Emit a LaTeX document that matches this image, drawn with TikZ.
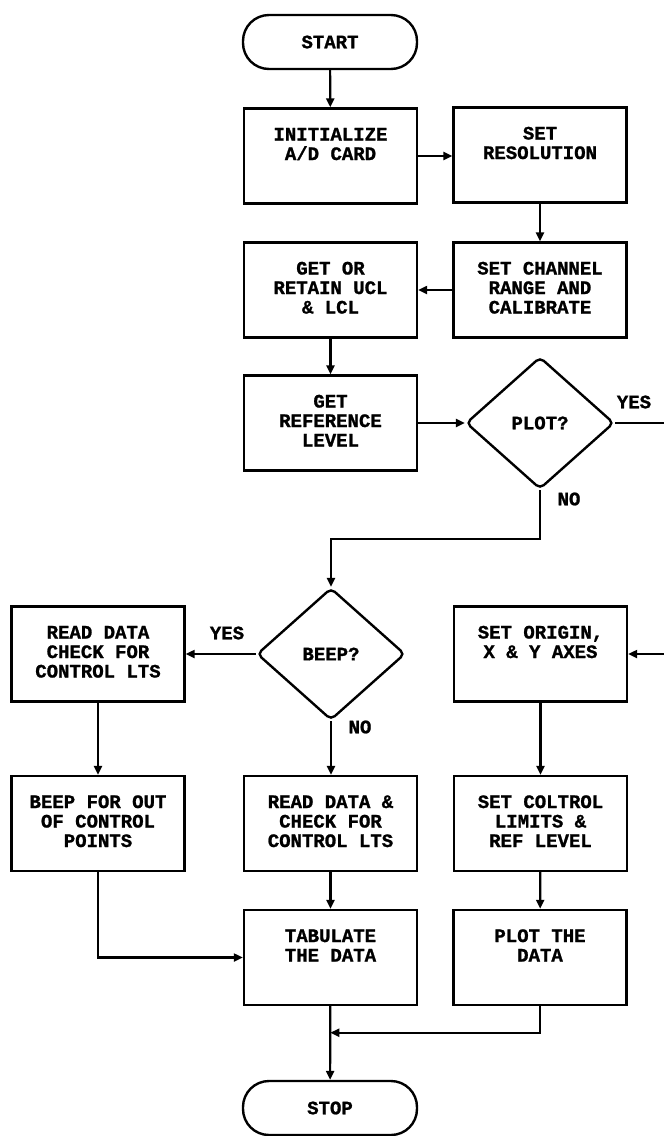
\documentclass[tikz,border=0pt]{standalone}
\usepackage{fontspec}
\newfontfamily\chartfont{Liberation Mono}[BoldFeatures={FakeBold=1.2}]
\usetikzlibrary{shapes.geometric,arrows.meta,calc}

% text of a process box: set from the top of the box, lines centred
\newcommand{\boxlines}[1]{\parbox[c][95pt][t]{170pt}{\centering\vspace*{18pt}\rule{0pt}{14pt}#1}}

\tikzset{
  chartfont/.style={font=\chartfont\bfseries\fontsize{19pt}{19.5pt}\selectfont},
  stepbox/.style={draw, rectangle, line width=2.4pt, minimum width=173pt,
    minimum height=95pt, inner sep=0pt, chartfont},
  decision/.style={draw, diamond, line width=2.4pt, minimum width=148pt,
    minimum height=132pt, inner sep=0pt, rounded corners=5pt, chartfont},
  terminal/.style={draw, rectangle, line width=2.4pt, rounded corners=26pt,
    minimum width=174pt, minimum height=54pt, inner sep=0pt, chartfont},
  tag/.style={inner sep=0pt, chartfont},
  flow/.style={line width=2.2pt, -{Triangle[length=9pt,width=8pt]}}
}

\begin{document}
\begin{tikzpicture}[x=1pt, y=-1pt]
  \useasboundingbox (0,0) rectangle (664,1136);
  \clip (0,0) rectangle (664,1136);

  % terminals
  \node[terminal] (start) at (330,42) {START};
  \node[terminal] (stop)  at (330,1108) {STOP};

  % first column pair
  \node[stepbox] (init)   at (330.5,156) {\boxlines{INITIALIZE\\A/D CARD}};
  \node[stepbox] (setres) at (540,155)   {\boxlines{SET\\RESOLUTION}};
  \node[stepbox] (setch)  at (540,290)   {\boxlines{SET CHANNEL\\RANGE AND\\CALIBRATE}};
  \node[stepbox] (getucl) at (330.5,290) {\boxlines{GET OR\\RETAIN UCL\\\& LCL}};
  \node[stepbox] (getref) at (330.5,423) {\boxlines{GET\\REFERENCE\\LEVEL}};

  % decisions
  \node[decision] (plot) at (540,423) {PLOT?};
  \node[decision] (beep) at (331,654) {BEEP?};

  % lower rows
  \node[stepbox] (readchk)  at (98,654)      {\boxlines{READ DATA\\CHECK FOR\\CONTROL LTS}};
  \node[stepbox] (origin)   at (540.5,654)   {\boxlines{SET ORIGIN,\\X \& Y AXES}};
  \node[stepbox] (beepout)  at (98,823.5)    {\boxlines{BEEP FOR OUT\\OF CONTROL\\POINTS}};
  \node[stepbox] (readdata) at (330.5,823.5) {\boxlines{READ DATA \&\\CHECK FOR\\CONTROL LTS}};
  \node[stepbox] (setcol)   at (540.5,823.5) {\boxlines{SET COLTROL\\LIMITS \&\\REF LEVEL}};
  \node[stepbox] (tab)      at (330.5,957.5) {\boxlines{TABULATE\\THE DATA}};
  \node[stepbox] (plotdata) at (540,957.5)   {\boxlines{PLOT THE\\DATA}};

  % branch labels
  \node[tag] (plotyes) at (634,402) {YES};
  \node[tag] (plotno)  at (569,499) {NO};
  \node[tag] (beepyes) at (227,633) {YES};
  \node[tag] (beepno)  at (360,727) {NO};

  % connectors
  \draw[flow] (start) -- (init);
  \draw[flow] (init) -- (init -| setres.west);
  \draw[flow] (setres) -- (setch);
  \draw[flow] (setch) -- (getucl);
  \draw[flow] (getucl) -- (getref);
  \draw[flow] (getref.east) -- (plot.west);
  \draw[flow] (plot.east) -- (700,423) |- (origin.east);
  \draw[flow] (plot.south) -- ++(0,49) -| (beep.north);
  \draw[flow] (beep.west) -- (readchk.east |- beep.west);
  \draw[flow] (beep.south) -- (readdata.north -| beep.south);
  \draw[flow] (origin) -- (setcol);
  \draw[flow] (readchk) -- (beepout);
  \draw[flow] (beepout.south) |- (tab.west);
  \draw[flow] (readdata) -- (tab);
  \draw[flow] (setcol) -- (plotdata);
  \coordinate (join) at ($(tab.south)!0.36!(stop.north)$);
  \draw[flow] (tab) -- (stop);
  \draw[flow] (plotdata.south) |- (join);
\end{tikzpicture}
\end{document}
